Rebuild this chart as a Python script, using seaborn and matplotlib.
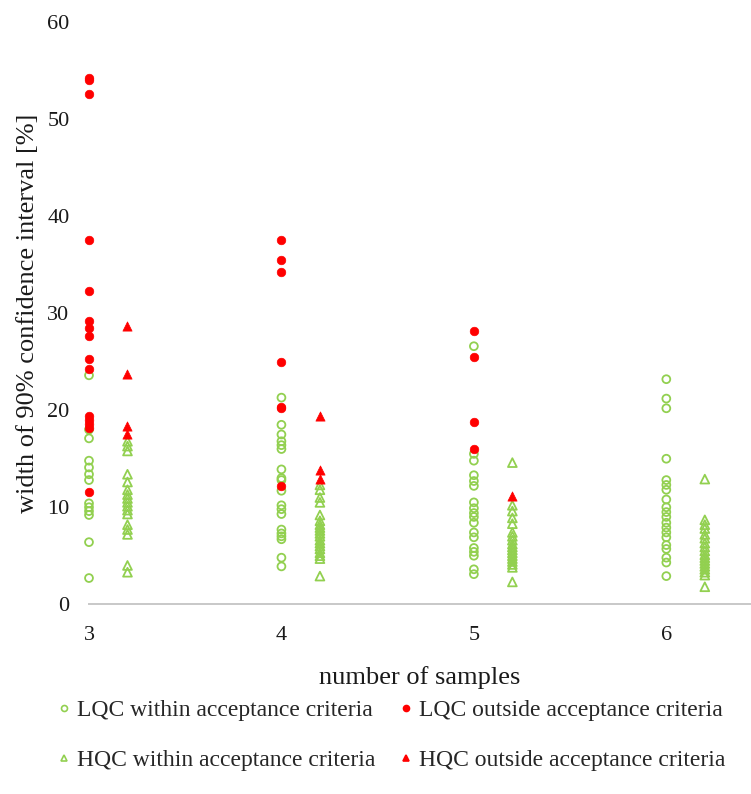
import matplotlib
matplotlib.use("Agg")
import matplotlib.pyplot as plt
import seaborn as sns
import pandas as pd
from matplotlib.lines import Line2D

# number of samples on the x axis
samples = [3, 4, 5, 6]

# width of the 90% confidence interval [%], one list per number of samples
lqc_within = [
    [23.6, 18.0, 17.1, 14.8, 14.1, 13.4, 12.8, 10.4, 10.0, 9.6, 9.2, 6.4, 2.7],
    [21.3, 18.5, 17.5, 16.8, 16.4, 16.0, 13.9, 13.0, 12.8, 11.7, 10.2, 9.8, 9.3,
     7.7, 7.3, 7.0, 6.7, 4.8, 3.9],
    [26.6, 15.5, 14.8, 13.3, 12.7, 12.2, 10.5, 9.9, 9.4, 9.0, 8.4, 7.4, 6.9,
     5.8, 5.4, 5.0, 3.6, 3.1],
    [23.2, 21.2, 20.2, 15.0, 12.8, 12.3, 11.8, 10.8, 10.0, 9.5, 9.0, 8.4, 7.9,
     7.4, 6.9, 6.1, 5.7, 4.8, 4.3, 2.9],
]
lqc_outside = [
    [54.3, 54.0, 52.6, 37.6, 32.3, 29.2, 28.5, 27.7, 25.3, 24.3, 19.4, 19.0,
     18.6, 18.2, 11.6],
    [37.6, 35.5, 34.2, 25.0, 20.3, 20.2, 12.2],
    [28.2, 25.5, 18.8, 16.0],
    [],
]
hqc_within = [
    [16.8, 16.3, 15.8, 13.4, 12.6, 11.8, 11.3, 10.9, 10.5, 10.1, 9.7, 9.3, 8.2,
     7.7, 7.2, 4.0, 3.3],
    [12.3, 11.8, 11.0, 10.5, 9.2, 8.6, 8.2, 7.9, 7.6, 7.3, 7.0, 6.6, 6.3, 6.0,
     5.7, 5.3, 5.0, 4.7, 2.9],
    [14.6, 10.2, 9.6, 8.9, 8.3, 7.4, 7.0, 6.6, 6.2, 5.9, 5.6, 5.3, 5.0, 4.7,
     4.4, 4.1, 3.8, 2.3],
    [12.9, 8.7, 8.2, 7.8, 7.2, 6.8, 6.3, 5.9, 5.5, 5.1, 4.8, 4.5, 4.2, 3.9,
     3.6, 3.3, 3.0, 1.8],
]
hqc_outside = [
    [28.7, 23.7, 18.4, 17.6],
    [19.4, 13.8, 12.9],
    [11.2],
    [],
]

x_ticks = [3, 4, 5, 6]
y_ticks = [0, 10, 20, 30, 40, 50, 60]

GREEN = "#92D050"
RED = "#FF0000"

groups = [
    # label, data, x shift, marker, filled, colour
    ("LQC within acceptance criteria", lqc_within, 0.0, "o", False, GREEN),
    ("LQC outside acceptance criteria", lqc_outside, 0.0, "o", True, RED),
    ("HQC within acceptance criteria", hqc_within, 0.2, "^", False, GREEN),
    ("HQC outside acceptance criteria", hqc_outside, 0.2, "^", True, RED),
]

rows = []
for label, series, shift, _, _, _ in groups:
    for n, values in zip(samples, series):
        for v in values:
            rows.append({"samples": n + shift, "width": v, "group": label})
df = pd.DataFrame(rows)

sns.set_theme(style="white")
plt.rcParams["font.family"] = ["Liberation Serif", "DejaVu Serif"]

fig = plt.figure(figsize=(7.51, 7.94), dpi=100)
ax = fig.add_axes([0.1185, 0.239, 0.8815, 0.733])

for label, _, _, marker, filled, colour in groups:
    sub = df[df["group"] == label]
    if filled:
        sns.scatterplot(data=sub, x="samples", y="width", marker=marker,
                        s=38 if marker == "o" else 44,
                        color=colour, edgecolor=colour, linewidth=0.5,
                        legend=False, ax=ax, clip_on=False, zorder=3)
    else:
        sns.scatterplot(data=sub, x="samples", y="width", marker=marker,
                        s=32 if marker == "o" else 40,
                        facecolor="none", edgecolor=colour, linewidth=1.3,
                        legend=False, ax=ax, clip_on=False, zorder=2)

ax.set_xlim(3.0, 6.44)
ax.set_ylim(0, 60)
ax.set_xticks(x_ticks)
ax.set_yticks(y_ticks)
ax.tick_params(axis="both", length=0, labelsize=16, colors="#1a1a1a")
ax.tick_params(axis="x", pad=16)
ax.tick_params(axis="y", pad=14)

for side in ["top", "right", "left"]:
    ax.spines[side].set_visible(False)
ax.spines["bottom"].set_color("#C8C8C8")
ax.spines["bottom"].set_linewidth(1.4)

ax.set_xlabel("number of samples", fontsize=19, labelpad=15, color="#1a1a1a")
ax.set_ylabel("width of 90% confidence interval [%]", fontsize=19,
              labelpad=6, color="#1a1a1a")

def handle(marker, filled, colour):
    return Line2D([], [], linestyle="none", marker=marker, markersize=4.3,
                  markerfacecolor=colour if filled else "none",
                  markeredgecolor=colour, markeredgewidth=1.2)

order = [0, 2, 1, 3]
handles = [handle(groups[i][3], groups[i][4], groups[i][5]) for i in order]
labels = [groups[i][0] for i in order]
fig.legend(handles, labels, ncol=2, loc="center",
           bbox_to_anchor=(0.522, 0.0735), frameon=False, fontsize=17,
           handlelength=0.4, handletextpad=0.35, columnspacing=1.1,
           labelspacing=1.2, borderpad=0)

fig.savefig("out.png", dpi=100)
